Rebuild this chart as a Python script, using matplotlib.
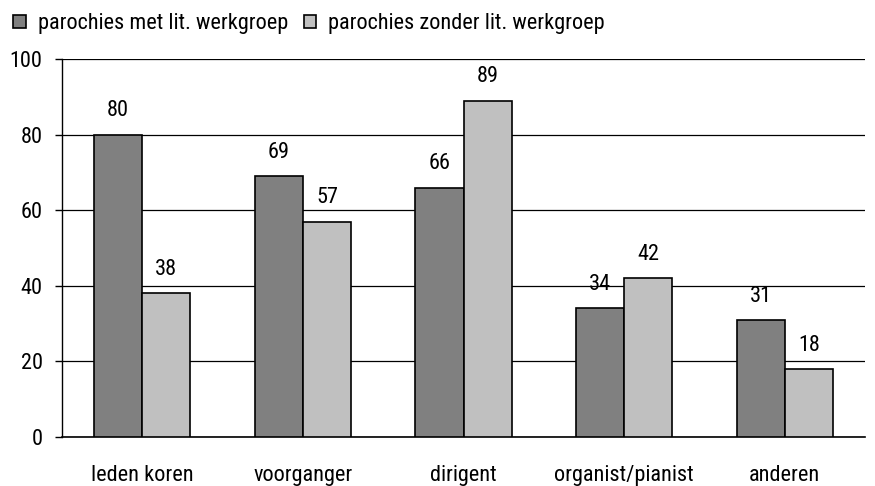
import numpy as np
import matplotlib
matplotlib.use('Agg')
import matplotlib.pyplot as plt
from matplotlib.patches import Patch

plt.rcParams['font.family'] = ['Roboto Condensed', 'Archivo Narrow', 'DejaVu Sans']

categories = ['leden koren', 'voorganger', 'dirigent', 'organist/pianist', 'anderen']
met_werkgroep = [80, 69, 66, 34, 31]
zonder_werkgroep = [38, 57, 89, 42, 18]
series_names = ['parochies met lit. werkgroep', 'parochies zonder lit. werkgroep']

fig = plt.figure(figsize=(8.75, 4.86), dpi=100)
ax = fig.add_axes([62/875, 1 - 437/486, 803/875, 378/486])

x = np.arange(len(categories))
w = 0.3
b1 = ax.bar(x - w/2, met_werkgroep, w, color='#808080', edgecolor='black', linewidth=1.2, zorder=3)
b2 = ax.bar(x + w/2, zonder_werkgroep, w, color='#c0c0c0', edgecolor='black', linewidth=1.2, zorder=3)

for bars, vals in [(b1, met_werkgroep), (b2, zonder_werkgroep)]:
    for r, v in zip(bars, vals):
        ax.text(r.get_x() + r.get_width()/2, v + 4.8, str(v), ha='center', va='baseline',
                fontsize=16, zorder=4)

ax.set_xlim(-0.5, len(categories) - 0.5)
ax.set_ylim(0, 100)
ax.set_yticks([0, 20, 40, 60, 80, 100])
ax.yaxis.grid(True, color='black', linewidth=0.9, zorder=0)
ax.set_xticks(x)
ax.set_xticklabels(categories, fontsize=16)
ax.tick_params(axis='x', length=0, pad=20)
ax.tick_params(axis='y', length=5, width=1, labelsize=16, pad=9)
for s in ['top', 'right']:
    ax.spines[s].set_visible(False)
ax.spines['left'].set_linewidth(1)
ax.spines['bottom'].set_linewidth(1.2)

handles = [Patch(facecolor='#808080', edgecolor='black', linewidth=1.2),
           Patch(facecolor='#c0c0c0', edgecolor='black', linewidth=1.2)]
fig.legend(handles, series_names, loc='upper left', bbox_to_anchor=(0.0, 1.0), ncol=2,
           frameon=False, fontsize=16, handlelength=0.55, handleheight=0.55,
           handletextpad=0.55, columnspacing=0.7, borderaxespad=0.2)

fig.savefig('out.png', dpi=100)
